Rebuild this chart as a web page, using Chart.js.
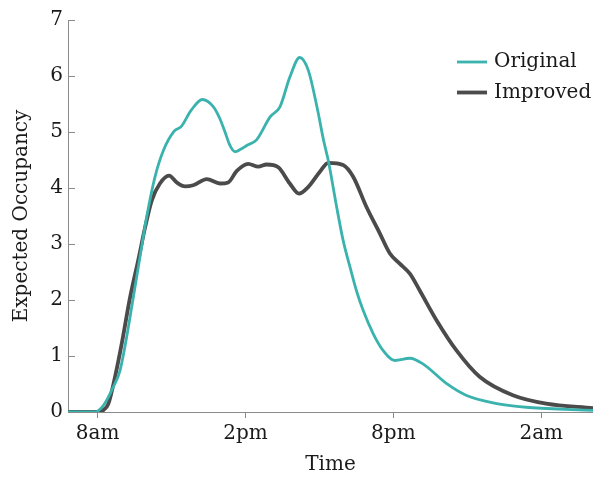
<!DOCTYPE html>
<html>
<head>
<meta charset="utf-8">
<script src="https://cdn.jsdelivr.net/npm/chart.js@4.4.1/dist/chart.umd.min.js"></script>
<style>
  html, body { margin: 0; padding: 0; background: #ffffff; }
  canvas { display: block; }
</style>
</head>
<body>
<canvas id="c" width="593" height="478"></canvas>
<script>
// Hours of day (24 = midnight, 26 = 2am next day)
const originalHours = [6.8, 7.9, 8.24, 8.64, 8.91, 9.18, 9.45, 9.72, 9.99, 10.33, 10.67, 11.1, 11.4, 11.8, 12.25, 12.7, 12.95, 13.17, 13.37, 13.57, 13.8, 14.05, 14.45, 15.0, 15.4, 15.8, 16.2, 16.55, 16.9, 17.17, 17.36, 17.7, 17.96, 18.24, 18.5, 18.77, 19.18, 19.58, 20.06, 20.67, 21.2, 22.15, 22.95, 24.2, 25.5, 28.1];
const originalValues = [0, 0, 0.12, 0.45, 0.74, 1.34, 2.05, 2.77, 3.48, 4.2, 4.67, 5.01, 5.1, 5.39, 5.58, 5.45, 5.25, 5.0, 4.76, 4.65, 4.69, 4.76, 4.86, 5.27, 5.45, 5.98, 6.33, 6.1, 5.45, 4.85, 4.49, 3.66, 3.07, 2.59, 2.17, 1.82, 1.4, 1.1, 0.92, 0.96, 0.86, 0.51, 0.3, 0.15, 0.08, 0.03];

const improvedHours = [6.8, 8.05, 8.25, 8.44, 8.71, 8.98, 9.32, 9.65, 9.93, 10.2, 10.53, 10.9, 11.21, 11.55, 11.88, 12.43, 12.97, 13.3, 13.64, 14.11, 14.52, 14.86, 15.33, 15.8, 16.17, 16.55, 17.02, 17.36, 17.96, 18.37, 18.91, 19.45, 19.86, 20.26, 20.67, 21.07, 21.75, 22.56, 23.5, 24.85, 26.2, 28.1];
const improvedValues = [0, 0, 0.04, 0.15, 0.63, 1.22, 2.05, 2.71, 3.3, 3.78, 4.08, 4.22, 4.1, 4.03, 4.05, 4.16, 4.08, 4.1, 4.3, 4.43, 4.38, 4.42, 4.37, 4.08, 3.9, 4.02, 4.29, 4.45, 4.41, 4.2, 3.66, 3.19, 2.83, 2.65, 2.47, 2.17, 1.64, 1.1, 0.63, 0.3, 0.15, 0.07];

const seriesLabels = ['Original', 'Improved'];
const xTickValues = [8, 14, 20, 26];
const xTickLabels = ['8am', '2pm', '8pm', '2am'];
const yTickValues = [0, 1, 2, 3, 4, 5, 6, 7];

const FONT = 'DejaVu Serif';
const TEXT = '#1a1a1a';
const AXIS = '#8a8a8a';
const TEAL = '#3ab2ad';
const GREY = '#4b4b4b';

const toPoints = (xs, ys) => xs.map((x, i) => ({ x: x, y: ys[i] }));

const tickPlugin = {
  id: 'innerTicks',
  afterDraw(chart) {
    const ctx = chart.ctx;
    const ys = chart.scales.y;
    const left = chart.chartArea.left;
    ctx.save();
    ctx.strokeStyle = AXIS;
    ctx.lineWidth = 1;
    ys.ticks.forEach(t => {
      const py = Math.round(ys.getPixelForValue(t.value)) + 0.5;
      ctx.beginPath();
      ctx.moveTo(left, py);
      ctx.lineTo(left + 7, py);
      ctx.stroke();
    });
    ctx.restore();
  }
};

const legendPlugin = {
  id: 'insideLegend',
  afterDraw(chart) {
    const ctx = chart.ctx;
    const rows = [62, 92.5];
    ctx.save();
    chart.data.datasets.forEach((ds, i) => {
      const y = rows[i];
      ctx.strokeStyle = ds.borderColor;
      ctx.lineWidth = ds.borderWidth;
      ctx.beginPath();
      ctx.moveTo(457, y);
      ctx.lineTo(487, y);
      ctx.stroke();
      ctx.fillStyle = TEXT;
      ctx.font = '20px "' + FONT + '"';
      ctx.textAlign = 'left';
      ctx.textBaseline = 'middle';
      ctx.fillText(ds.label, 494, y);
    });
    ctx.restore();
  }
};

new Chart(document.getElementById('c'), {
  type: 'line',
  data: {
    datasets: [
      {
        label: seriesLabels[0],
        data: toPoints(originalHours, originalValues),
        borderColor: TEAL,
        backgroundColor: TEAL,
        borderWidth: 2.8,
        pointRadius: 0,
        cubicInterpolationMode: 'monotone',
        fill: false
      },
      {
        label: seriesLabels[1],
        data: toPoints(improvedHours, improvedValues),
        borderColor: GREY,
        backgroundColor: GREY,
        borderWidth: 3.8,
        pointRadius: 0,
        cubicInterpolationMode: 'monotone',
        fill: false
      }
    ]
  },
  options: {
    responsive: false,
    animation: false,
    events: [],
    layout: { padding: { top: 20, right: 0, bottom: 0, left: 0 } },
    plugins: {
      legend: { display: false },
      tooltip: { enabled: false }
    },
    scales: {
      x: {
        type: 'linear',
        min: 6.8,
        max: 28.1,
        afterBuildTicks(scale) {
          scale.ticks = xTickValues.map(v => ({ value: v }));
        },
        afterFit(scale) { scale.height = 66; },
        grid: {
          drawOnChartArea: false,
          drawTicks: true,
          tickLength: 6,
          color: AXIS,
          lineWidth: 1
        },
        border: { display: true, color: AXIS, width: 1 },
        ticks: {
          autoSkip: false,
          maxRotation: 0,
          padding: 4,
          color: TEXT,
          font: { family: FONT, size: 20 },
          callback(value) {
            const idx = xTickValues.indexOf(value);
            return idx >= 0 ? xTickLabels[idx] : '';
          }
        },
        title: {
          display: true,
          text: 'Time',
          color: TEXT,
          font: { family: FONT, size: 20 },
          padding: { top: 0, bottom: 1 }
        }
      },
      y: {
        type: 'linear',
        min: 0,
        max: 7,
        afterBuildTicks(scale) {
          scale.ticks = yTickValues.map(v => ({ value: v }));
        },
        afterFit(scale) { scale.width = 68; },
        grid: { drawOnChartArea: false, drawTicks: false },
        border: { display: true, color: AXIS, width: 1 },
        ticks: {
          padding: 5,
          color: TEXT,
          font: { family: FONT, size: 20 },
          callback(value) { return String(value); }
        },
        title: {
          display: true,
          text: 'Expected Occupancy',
          color: TEXT,
          font: { family: FONT, size: 20 },
          padding: { top: 10, bottom: 0 }
        }
      }
    }
  },
  plugins: [tickPlugin, legendPlugin]
});
</script>
</body>
</html>
